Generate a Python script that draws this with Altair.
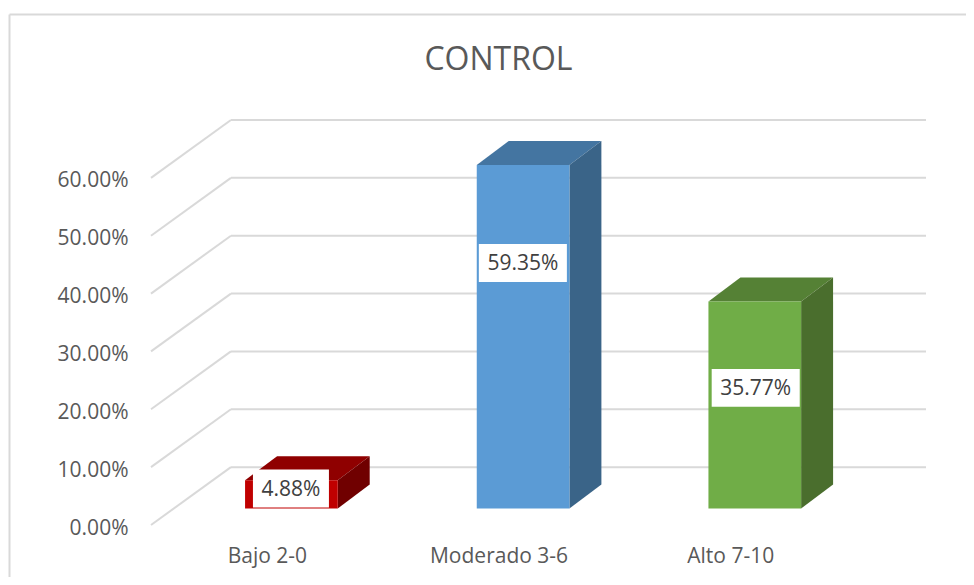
import altair as alt
import pandas as pd

# --- chart values ---
chart_title = "CONTROL"
categories = ["Bajo 2-0", "Moderado 3-6", "Alto 7-10"]
values = [0.0488, 0.5935, 0.3577]
label_texts = ["4.88%", "59.35%", "35.77%"]
front_colors = ["#c00000", "#5b9bd5", "#70ad47"]
top_colors = ["#8f0000", "#4475a1", "#558135"]
side_colors = ["#700000", "#3a6488", "#4a6e2d"]
y_ticks = [0.0, 0.1, 0.2, 0.3, 0.4, 0.5, 0.6]

# --- 3D geometry, in axis units ---
WALL_DX, WALL_DY = 0.345, 0.10
BAR_DX, BAR_DY = 0.138, 0.0415
BAR_SHIFT, BAR_HALF = 0.106, 0.2
BASE = 0.0287
X_MIN, X_MAX = -0.5, 2.845
Y_MAX = 0.70
LABEL_Y = [0.0630, 0.4530, 0.2370]      # centre of each value label
LABEL_X = [0.104, 0.105, 0.11]
LABEL_HALF_W = [0.164, 0.190, 0.190]
LABEL_HALF_H = 0.0328

GRID = "#d9d9d9"
TEXT = "#595959"
FONT = "Open Sans"

x_scale = alt.Scale(domain=[X_MIN, X_MAX], nice=False, zero=False)
y_scale = alt.Scale(domain=[0, Y_MAX], nice=False, zero=False)

label_expr = "[" + ",".join(f"'{c}'" for c in categories) + "][datum.value]"
x_axis = alt.Axis(values=[0, 1, 2], labelExpr=label_expr, domain=False, ticks=False,
                  grid=False, labelPadding=20, labelFontSize=21, labelColor=TEXT,
                  labelFont=FONT, labelFlush=False, labelOverlap=False, labelBaseline="top")
y_axis = alt.Axis(values=y_ticks, format=".2%", domain=False, ticks=False, grid=False,
                  labelPadding=23, labelFontSize=21, labelColor=TEXT, labelFont=FONT,
                  labelOffset=3)


def X(field):
    return alt.X(field, scale=x_scale, title=None, axis=x_axis)


def Y(field):
    return alt.Y(field, scale=y_scale, title=None, axis=y_axis)


# gridlines
back = pd.DataFrame([{"x": X_MIN + WALL_DX, "x2": X_MAX, "y": t + WALL_DY} for t in y_ticks])
diag = pd.DataFrame([{"x": X_MIN, "x2": X_MIN + WALL_DX, "y": t, "y2": t + WALL_DY} for t in y_ticks])
back_layer = alt.Chart(back).mark_rule(color=GRID, strokeWidth=2).encode(x=X("x:Q"), x2="x2:Q", y=Y("y:Q"))
diag_layer = alt.Chart(diag).mark_rule(color=GRID, strokeWidth=2).encode(x=X("x:Q"), x2="x2:Q", y=Y("y:Q"), y2="y2:Q")

# bars
front_rows, top_rows, side_rows = [], [], []
for i, v in enumerate(values):
    xl, xr = i + BAR_SHIFT - BAR_HALF, i + BAR_SHIFT + BAR_HALF
    y0, y1 = BASE, BASE + v
    front_rows.append({"x": xl, "x2": xr, "y": y0, "y2": y1, "c": front_colors[i]})
    top_rows += [{"x": xl, "x2": xr, "y": y1, "c": top_colors[i], "g": i},
                 {"x": xl + BAR_DX, "x2": xr + BAR_DX, "y": y1 + BAR_DY, "c": top_colors[i], "g": i}]
    side_rows += [{"x": xr, "y": y1, "y2": y0, "c": side_colors[i], "g": i},
                  {"x": xr + BAR_DX, "y": y1 + BAR_DY, "y2": y0 + BAR_DY, "c": side_colors[i], "g": i}]

color = alt.Color("c:N", scale=None)
top_layer = alt.Chart(pd.DataFrame(top_rows)).mark_area(orient="horizontal", interpolate="linear").encode(
    x=X("x:Q"), x2="x2:Q", y=Y("y:Q"), color=color, detail="g:N")
side_layer = alt.Chart(pd.DataFrame(side_rows)).mark_area(orient="vertical", interpolate="linear").encode(
    x=X("x:Q"), y=Y("y:Q"), y2="y2:Q", color=color, detail="g:N")
front_layer = alt.Chart(pd.DataFrame(front_rows)).mark_rect().encode(
    x=X("x:Q"), x2="x2:Q", y=Y("y:Q"), y2="y2:Q", color=color)

# value labels
labels = pd.DataFrame({
    "x": [i + d for i, d in enumerate(LABEL_X)],
    "y": LABEL_Y,
    "t": label_texts,
    "hw": LABEL_HALF_W,
})
labels["x0"] = labels["x"] - labels["hw"]
labels["x1"] = labels["x"] + labels["hw"]
labels["y0"] = labels["y"] - LABEL_HALF_H
labels["y1"] = labels["y"] + LABEL_HALF_H
box_layer = alt.Chart(labels).mark_rect(color="white").encode(
    x=X("x0:Q"), x2="x1:Q", y=Y("y0:Q"), y2="y1:Q")
text_layer = alt.Chart(labels).mark_text(font=FONT, fontSize=21, color="#404040", align="center",
                                         baseline="middle", dy=1).encode(
    x=X("x:Q"), y=Y("y:Q"), text="t:N")

# chart title and outer chart border
one = pd.DataFrame({"t": [chart_title]})
title_layer = alt.Chart(one).mark_text(font=FONT, fontSize=32, color=TEXT, align="center",
                                       baseline="middle").encode(
    x=alt.value(347.5), y=alt.value(-60), text="t:N")
border_top = alt.Chart(one).mark_rule(color=GRID, strokeWidth=2).encode(
    x=alt.value(-141.5), x2=alt.value(830), y=alt.value(-105.5))
border_left = alt.Chart(one).mark_rule(color=GRID, strokeWidth=2).encode(
    x=alt.value(-141.5), y=alt.value(-105.5), y2=alt.value(460))

chart = alt.layer(border_top, border_left, title_layer, back_layer, diag_layer, top_layer, side_layer,
                  front_layer, box_layer, text_layer).properties(
    width=775, height=405,
    padding={"left": 143, "top": 112, "right": 40, "bottom": 52},
    autosize=alt.AutoSizeParams(type="none"),
    background="white",
).configure_view(strokeWidth=0, stroke="transparent")

chart.save("out.html", embed_options={"renderer": "svg", "actions": False})
